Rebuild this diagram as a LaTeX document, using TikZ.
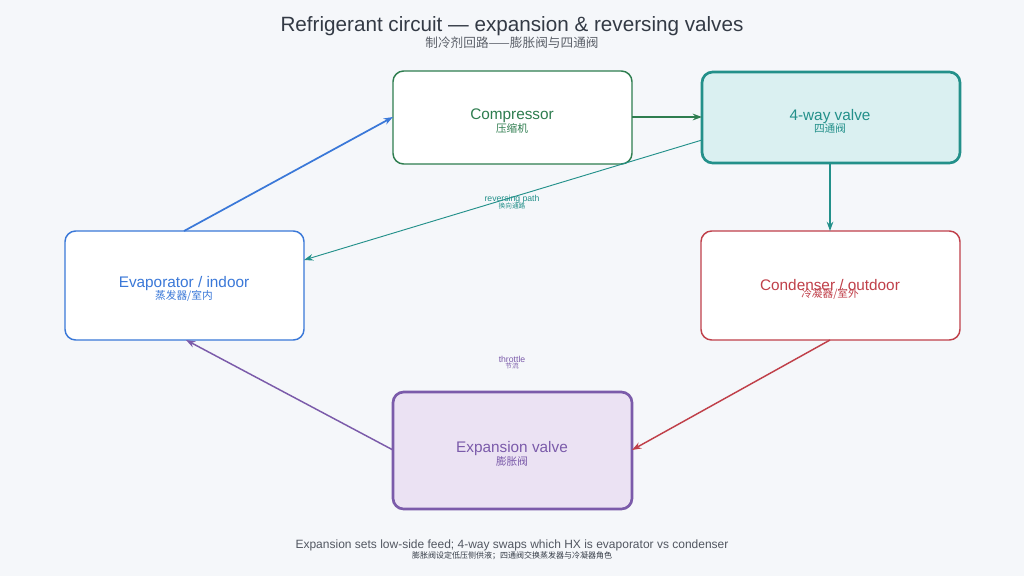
\documentclass[tikz,border=0pt]{standalone}
\usepackage{fontspec}
\setmainfont{Liberation Sans}
\newfontfamily\cjk{Noto Sans CJK SC}
\usetikzlibrary{arrows.meta}
\definecolor{bg}{HTML}{F5F7FA}
\definecolor{cgreen}{HTML}{2E7D4F}
\definecolor{cteal}{HTML}{23908A}
\definecolor{lteal}{HTML}{DAF0F1}
\definecolor{cblue}{HTML}{3A78D8}
\definecolor{cred}{HTML}{C0404A}
\definecolor{cpurp}{HTML}{7B5BAA}
\definecolor{lpurp}{HTML}{EBE2F3}
\definecolor{ctext}{HTML}{333A45}
\begin{document}
\begin{tikzpicture}[x=0.75pt,y=-0.75pt,
 box/.style={draw=#1,rounded corners=8pt,fill=white,line width=1.1pt,text=#1,align=center},
 lab/.style={font=\fontsize{11.5}{11.5}\selectfont},
 arr/.style={-{Stealth[length=7pt,width=5pt]},draw=#1}]
\fill[bg] (0,0) rectangle (1024,576);
\useasboundingbox (0,0) rectangle (1024,576);
\node[text=ctext,font=\fontsize{15.5}{15.5}\selectfont] (t) at (512,26) {Refrigerant circuit — expansion \& reversing valves};
\node[text=ctext!80,font=\cjk\fontsize{9.5}{9.5}\selectfont] (t2) at (512,43) {制冷剂回路——膨胀阀与四通阀};
\draw[box=cgreen] (393,71) rectangle (632,164);
\node[text=cgreen,lab] (cl) at (512,116) {Compressor};
\node[text=cgreen,font=\cjk\fontsize{8}{8}\selectfont] at (512,128) {压缩机};
\draw[box=cteal,fill=lteal,line width=2pt] (702,72) rectangle (960,163);
\node[text=cteal,lab] at (830,117) {4-way valve};
\node[text=cteal,font=\cjk\fontsize{8}{8}\selectfont] at (830,128) {四通阀};
\draw[box=cblue] (65,231) rectangle (304,340);
\node[text=cblue,lab] at (184,284) {Evaporator / indoor};
\node[text=cblue,font=\cjk\fontsize{8}{8}\selectfont] at (184,296) {蒸发器/室内};
\draw[box=cred] (701,231) rectangle (960,340);
\node[text=cred,lab] at (830,285) {Condenser / outdoor};
\node[text=cred,font=\cjk\fontsize{8}{8}\selectfont] at (830,294) {冷凝器/室外};
\draw[box=cpurp,fill=lpurp,line width=2pt] (393,392) rectangle (632,509);
\node[text=cpurp,lab] at (512,449) {Expansion valve};
\node[text=cpurp,font=\cjk\fontsize{8}{8}\selectfont] at (512,461) {膨胀阀};
\coordinate (c1) at (632,117); \coordinate (v1) at (702,117);
\coordinate (v2) at (830,163); \coordinate (k1) at (830,231);
\coordinate (v3) at (702,140); \coordinate (e1) at (304,260);
\coordinate (k2) at (830,340); \coordinate (x1) at (632,450);
\coordinate (x2) at (393,450); \coordinate (e2) at (186,340);
\coordinate (e3) at (184,231); \coordinate (c2) at (393,117);
\draw[arr=cgreen,line width=1.8pt] (c1) -- (v1);
\draw[arr=cteal,line width=1.4pt] (v2) -- (k1);
\draw[arr=cteal,line width=0.7pt] (v3) -- (e1);
\draw[arr=cred,line width=1.1pt] (k2) -- (x1);
\draw[arr=cpurp,line width=1.1pt] (x2) -- (e2);
\draw[arr=cblue,line width=1.3pt] (e3) -- (c2);
\node[text=cteal,font=\fontsize{6.5}{6.5}\selectfont] at (512,199) {reversing path};
\node[text=cteal,font=\cjk\fontsize{5}{5}\selectfont] at (512,206) {换向通路};
\node[text=cpurp,font=\fontsize{6.5}{6.5}\selectfont] at (512,359) {throttle};
\node[text=cpurp,font=\cjk\fontsize{5}{5}\selectfont] at (512,366) {节流};
\node[text=ctext!85,font=\fontsize{9}{9}\selectfont] at (512,545) {Expansion sets low-side feed; 4-way swaps which HX is evaporator vs condenser};
\node[text=ctext,font=\cjk\fontsize{6}{6}\selectfont] at (512,556) {膨胀阀设定低压侧供液；四通阀交换蒸发器与冷凝器角色};
\end{tikzpicture}
\end{document}
